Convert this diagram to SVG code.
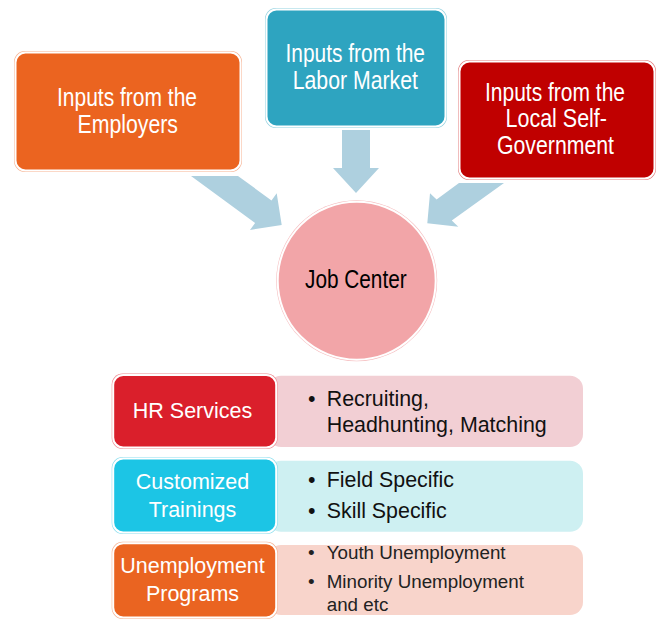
<svg xmlns="http://www.w3.org/2000/svg" width="671" height="632" viewBox="0 0 671 632">
<style>
.narrow{font-family:"Liberation Sans Narrow","Liberation Sans",Arial,sans-serif;fill:#fff;font-size:25.5px}
.lbl{font-family:"Liberation Sans",Arial,sans-serif;fill:#fff;font-size:21.5px;text-anchor:middle}
.item{font-family:"Liberation Sans",Arial,sans-serif;fill:#111;font-size:21.4px}
.small{font-family:"Liberation Sans",Arial,sans-serif;fill:#222;font-size:18.8px}
.arrow{fill:#AED0DF}
.inner{stroke:#fff;stroke-width:2}
</style>
<rect width="671" height="632" fill="#fff"/>
<g id="connectors">
<polygon class="arrow" points="191,176 238,176 271.5,200.4 276.7,193.3 281.7,225 250,230 255.1,223"/>
<polygon class="arrow" points="342,130 370,130 370,168 379,168 356,193 333,168 342,168"/>
<polygon class="arrow" points="459,183 504,183 451.8,220.5 458.3,226.7 427.3,223.3 430,193.3 436.6,199.5"/>
</g>
<g id="employers">
<rect x="14" y="51" width="228" height="121" rx="11" fill="#F6B08F"/>
<rect x="15.5" y="52.5" width="225" height="118" rx="10" fill="#EB6420" class="inner"/>
<text class="narrow" x="57" y="106" textLength="140" lengthAdjust="spacingAndGlyphs">Inputs from the</text>
<text class="narrow" x="77.5" y="133" textLength="100.5" lengthAdjust="spacingAndGlyphs">Employers</text>
</g>
<g id="labor">
<rect x="265" y="8" width="182" height="120" rx="11" fill="#8FD0DF"/>
<rect x="266.5" y="9.5" width="179" height="117" rx="10" fill="#2EA4C0" class="inner"/>
<text class="narrow" x="285.5" y="62" textLength="139.5" lengthAdjust="spacingAndGlyphs">Inputs from the</text>
<text class="narrow" x="292.7" y="88.5" textLength="125.3" lengthAdjust="spacingAndGlyphs">Labor Market</text>
</g>
<g id="local">
<rect x="458" y="60" width="198" height="120" rx="11" fill="#E27A7A"/>
<rect x="459.5" y="61.5" width="195" height="117" rx="10" fill="#C00000" class="inner"/>
<text class="narrow" x="485" y="100.5" textLength="140" lengthAdjust="spacingAndGlyphs">Inputs from the</text>
<text class="narrow" x="505.5" y="127" textLength="101.5" lengthAdjust="spacingAndGlyphs">Local Self-</text>
<text class="narrow" x="497" y="153.5" textLength="117" lengthAdjust="spacingAndGlyphs">Government</text>
</g>
<g id="jobcenter">
<circle cx="356.7" cy="280.7" r="80.5" fill="#F5B9BB"/>
<circle cx="356.7" cy="280.7" r="79" fill="#F2A5A8" class="inner"/>
<text class="narrow" x="305" y="288.3" textLength="101.7" lengthAdjust="spacingAndGlyphs" style="fill:#000">Job Center</text>
</g>
<g id="hr">
<rect x="268" y="375.7" width="315" height="71.3" rx="13" fill="#F2CFD4"/>
<rect x="111.7" y="373.5" width="166" height="75.5" rx="11" fill="#EE8A90"/>
<rect x="113.2" y="375" width="163" height="72.5" rx="10" fill="#DA1F2B" class="inner"/>
<text class="lbl" x="192.5" y="418">HR Services</text>
<text class="item" x="308" y="405.5">•</text>
<text class="item" x="326.7" y="405.5">Recruiting,</text>
<text class="item" x="326.7" y="432">Headhunting, Matching</text>
</g>
<g id="trainings">
<rect x="268" y="460.7" width="315" height="71" rx="13" fill="#CEF0F2"/>
<rect x="111.7" y="457" width="166" height="77" rx="11" fill="#86DDEE"/>
<rect x="113.2" y="458.5" width="163" height="74" rx="10" fill="#1CC5E5" class="inner"/>
<text class="lbl" x="192.5" y="489">Customized</text>
<text class="lbl" x="192.5" y="516.7">Trainings</text>
<text class="item" x="308" y="487">•</text>
<text class="item" x="326.7" y="487">Field Specific</text>
<text class="item" x="308" y="517.5">•</text>
<text class="item" x="326.7" y="517.5">Skill Specific</text>
</g>
<g id="programs">
<rect x="268" y="545" width="315" height="70" rx="13" fill="#F8D4CB"/>
<rect x="111.7" y="541.7" width="166" height="77.3" rx="11" fill="#F5AE8C"/>
<rect x="113.2" y="543.2" width="163" height="74.3" rx="10" fill="#EA6421" class="inner"/>
<text class="lbl" x="192.5" y="573">Unemployment</text>
<text class="lbl" x="192.5" y="600.7">Programs</text>
<text class="small" x="308" y="559.3">•</text>
<text class="small" x="326.7" y="559.3">Youth Unemployment</text>
<text class="small" x="308" y="588.3">•</text>
<text class="small" x="326.7" y="588.3">Minority Unemployment</text>
<text class="small" x="326.7" y="610.7">and etc</text>
</g>
</svg>
